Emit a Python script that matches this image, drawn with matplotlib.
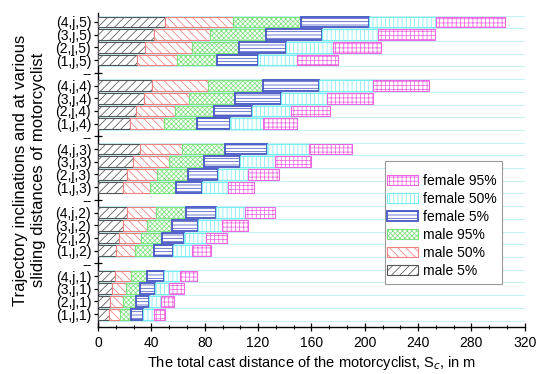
import numpy as np
import matplotlib.pyplot as plt
from matplotlib.patches import Rectangle
from matplotlib.ticker import MultipleLocator, AutoMinorLocator

plt.rcParams['font.family'] = ['Liberation Sans', 'DejaVu Sans']
plt.rcParams['hatch.linewidth'] = 0.55

# rows from bottom to top: (1,j,1), (2,j,1), (3,j,1), (4,j,1), (1,j,2), ...
row_labels = [
    "(1,j,1)", "(2,j,1)", "(3,j,1)", "(4,j,1)",
    "(1,j,2)", "(2,j,2)", "(3,j,2)", "(4,j,2)",
    "(1,j,3)", "(2,j,3)", "(3,j,3)", "(4,j,3)",
    "(1,j,4)", "(2,j,4)", "(3,j,4)", "(4,j,4)",
    "(1,j,5)", "(2,j,5)", "(3,j,5)", "(4,j,5)",
]

# segment lengths (m), stacked left to right
male_5 = [8.0, 9.3, 10.5, 12.5, 13.8, 15.8, 18.8, 21.8, 18.8, 22.0,
          26.3, 31.3, 24.3, 28.8, 34.3, 40.5, 29.5, 35.0, 42.0, 50.0]
male_50 = [8.8, 9.5, 10.8, 12.0, 13.7, 16.2, 18.2, 22.0, 20.0, 22.5,
           26.7, 32.0, 25.0, 28.7, 34.0, 42.0, 30.0, 35.5, 41.8, 51.3]
male_95 = [8.2, 9.5, 10.5, 12.3, 14.3, 16.3, 18.8, 22.0, 19.5, 23.0,
           26.5, 31.7, 25.0, 29.3, 34.2, 41.0, 30.0, 35.0, 42.5, 51.0]
female_5 = [8.8, 9.7, 10.7, 12.5, 14.5, 16.2, 19.2, 22.5, 19.7, 22.5,
            26.8, 31.8, 24.5, 29.0, 34.8, 42.0, 30.5, 35.8, 42.0, 51.0]
female_50 = [8.0, 9.0, 10.8, 12.0, 14.2, 16.3, 18.3, 21.7, 19.5, 22.5,
             26.2, 31.5, 25.0, 28.7, 34.5, 40.8, 29.5, 34.7, 41.7, 50.5]
female_95 = [8.7, 9.8, 11.2, 13.0, 14.0, 16.2, 19.2, 22.5, 19.8, 23.1,
             27.0, 32.5, 25.2, 29.8, 34.5, 42.0, 30.5, 36.0, 43.0, 51.2]

series = [
    ("male 5%", male_5, "#555555", "////", 0.8),
    ("male 50%", male_50, "#f28080", "\\\\\\\\", 0.8),
    ("male 95%", male_95, "#7de27d", "xxxxxxx", 0.8),
    ("female 5%", female_5, "#4656c4", "-----", 1.3),
    ("female 50%", female_50, "#78eef2", "||||", 0.8),
    ("female 95%", female_95, "#ee66e0", "++++", 0.8),
]

# y positions: 4 rows per group, one empty slot ("--") between groups
pos = np.array([g * 5 + i for g in range(5) for i in range(1, 5)])
sep_pos = [5, 10, 15, 20]

fig = plt.figure(figsize=(5.36, 3.74), dpi=100)
ax = fig.add_axes([0.183, 0.126, 0.796, 0.839])

left = np.zeros(len(pos))
handles = []
for name, vals, col, hatch, lw in series:
    vals = np.array(vals)
    b = ax.barh(pos, vals, left=left, height=0.85, color="white",
                edgecolor=col, hatch=hatch, linewidth=lw, label=name, zorder=3)
    handles.append(b)
    left = left + vals

# light cyan lines between the rows
for k in range(25):
    ax.axhline(k + 0.5, color="#c6f2f4", linewidth=0.8, zorder=1)

ax.set_xlim(0, 320)
ax.set_ylim(0, 24.7)
ax.xaxis.set_major_locator(MultipleLocator(40))
ax.xaxis.set_minor_locator(AutoMinorLocator(3))

all_pos = list(pos) + sep_pos
all_lab = row_labels + ["--"] * len(sep_pos)
ax.set_yticks(all_pos)
ax.set_yticklabels(all_lab)

ax.tick_params(axis="both", which="major", direction="inout", length=6, width=0.9, labelsize=10)
ax.tick_params(axis="x", which="minor", direction="inout", length=3, width=0.8)
ax.tick_params(axis="y", pad=2)
ax.spines["top"].set_visible(False)
ax.spines["right"].set_visible(False)
ax.spines["left"].set_linewidth(1.0)
ax.spines["bottom"].set_linewidth(1.0)

# legend box drawn separately (extra room at top, handles close to left edge)
box = Rectangle((0.672, 0.137), 0.274, 0.392, transform=ax.transAxes,
                facecolor="white", edgecolor="#999999", linewidth=0.8, zorder=6)
ax.add_patch(box)
leg = ax.legend(handles[::-1], [s[0] for s in series][::-1], loc="upper left",
                bbox_to_anchor=(0.676, 0.487), fontsize=10, frameon=False,
                handlelength=2.3, handleheight=0.75, labelspacing=0.28,
                borderpad=0, handletextpad=0.3, borderaxespad=0)
leg.set_zorder(7)

fig.text(0.055, 0.545, "Trajectory inclinations and at various\nsliding distances of motorcyclist",
         rotation=90, ha="center", va="center", fontsize=12, multialignment="center",
         linespacing=1.2)
fig.text(0.581, 0.03, "The total cast distance of the motorcyclist, S$_c$, in m",
         ha="center", va="center", fontsize=10.5)

plt.savefig("out.png", dpi=100)
